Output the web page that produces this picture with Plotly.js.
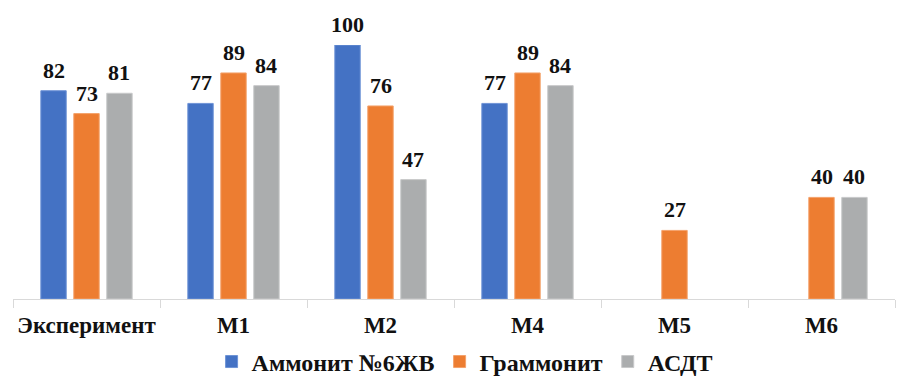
<!DOCTYPE html>
<html>
<head>
<meta charset="utf-8">
<script src="https://cdn.plot.ly/plotly-3.0.1.min.js"></script>
<style>
  html, body { margin: 0; padding: 0; background: #fff; }
  #chart { width: 898px; height: 379px; }
</style>
</head>
<body>
<div id="chart"></div>
<script>
// Categories and series values
const categories = ["Эксперимент", "M1", "M2", "M4", "M5", "M6"];
const seriesNames = ["Аммонит №6ЖВ", "Граммонит", "АСДТ"];
const ammonit = [82, 77, 100, 77, null, null];
const grammonit = [73, 89, 76, 89, 27, 40];
const asdt = [81, 84, 47, 84, null, 40];

const colors = ["#4472C4", "#ED7D31", "#ABADAE"];
const lineColors = ["#6E93D6", "#F4A26B", "#C8C9CA"];
const seriesValues = [ammonit, grammonit, asdt];

const bargap = 0.327;
const slot = (1 - bargap) / seriesValues.length;
const serif = "Times New Roman, Liberation Serif, DejaVu Serif, serif";

const traces = seriesValues.map((vals, s) => ({
  type: "bar",
  name: seriesNames[s],
  x: categories,
  y: vals,
  marker: { color: colors[s], line: { color: lineColors[s], width: 1 } },
  hoverinfo: "skip"
}));

// Value labels above each bar
const annotations = [];
seriesValues.forEach((vals, s) => {
  vals.forEach((v, i) => {
    if (v === null) return;
    annotations.push({
      xref: "x", yref: "y",
      x: i + (s - 1) * slot,
      y: v,
      text: "<b>" + v + "</b>",
      showarrow: false,
      yanchor: "bottom",
      yshift: 6,
      font: { family: serif, size: 22, color: "#111" }
    });
  });
});

const layout = {
  width: 898,
  height: 379,
  margin: { l: 13, r: 3, t: 45, b: 80, autoexpand: false },
  paper_bgcolor: "#fff",
  plot_bgcolor: "#fff",
  font: { family: serif },
  barmode: "group",
  bargap: bargap,
  bargroupgap: 0.23,
  showlegend: true,
  legend: {
    orientation: "h",
    x: 0.512, xanchor: "center",
    yref: "container",
    y: 0.045, yanchor: "middle",
    font: { family: serif, size: 24, color: "#111", weight: "bold" },
    itemwidth: 30,
    traceorder: "normal"
  },
  xaxis: {
    type: "category",
    showline: true,
    linecolor: "#D9D9D9",
    linewidth: 1,
    ticks: "outside",
    tickson: "boundaries",
    ticklen: 8,
    tickcolor: "#D9D9D9",
    tickangle: 0,
    ticklabelstandoff: 5,
    tickfont: { family: serif, size: 23, color: "#111", weight: "bold" },
    showgrid: false,
    zeroline: false
  },
  yaxis: {
    range: [0, 100],
    visible: false,
    showgrid: false,
    zeroline: false
  },
  annotations: annotations
};

Plotly.newPlot("chart", traces, layout, { displayModeBar: false, staticPlot: true });
</script>
</body>
</html>
